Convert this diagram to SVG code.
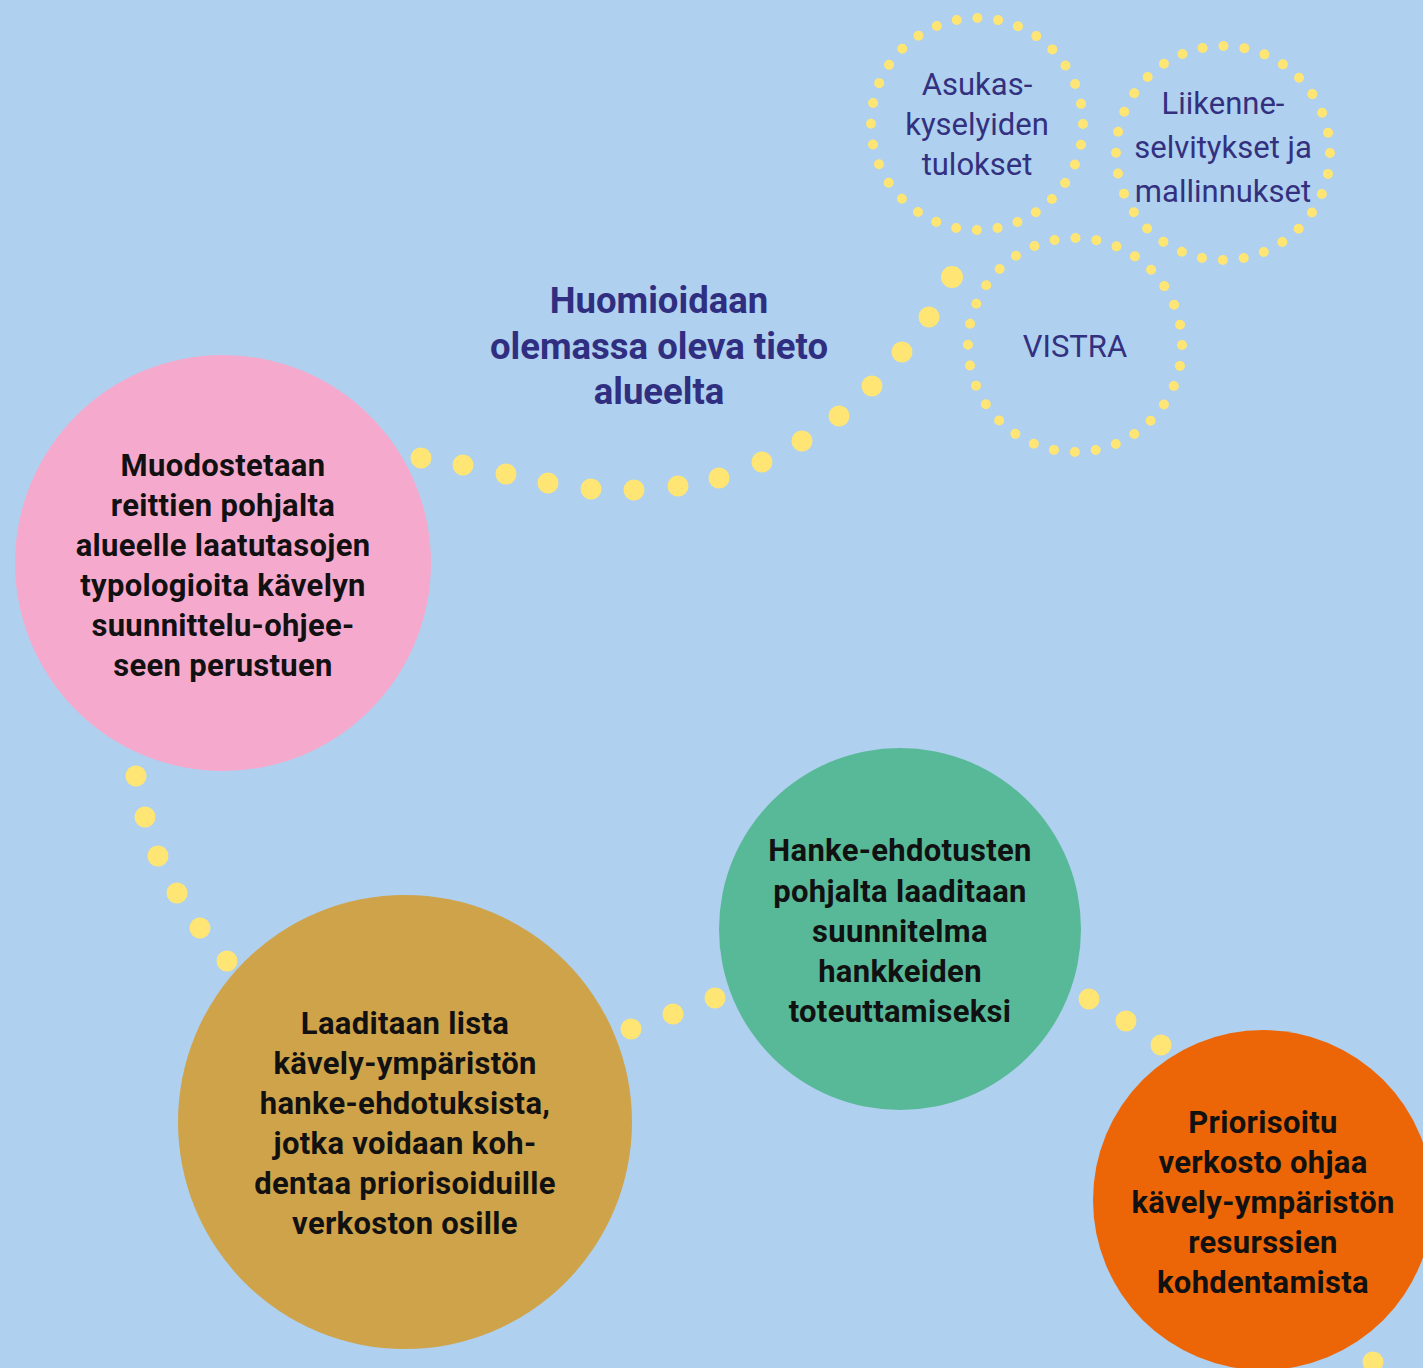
<svg xmlns="http://www.w3.org/2000/svg" width="1423" height="1368" viewBox="0 0 1423 1368">
<style>
.dot{fill:#FFE674}
.ring{fill:none;stroke:#FFE674;stroke-width:10;stroke-linecap:round}
.t{font-family:Roboto,"Liberation Sans",sans-serif;font-weight:700;font-size:31px;letter-spacing:0.3px;fill:#111;text-anchor:middle}
.s{font-family:Roboto,"Liberation Sans",sans-serif;font-size:31px;fill:#33307F;text-anchor:middle}
.h{font-family:Roboto,"Liberation Sans",sans-serif;font-weight:700;font-size:36.5px;fill:#2F2E80;text-anchor:middle}
</style>
<rect width="1423" height="1368" fill="#AFD0EE"/>
<g id="connectors">
<circle class="dot" cx="421" cy="458" r="10.5"/><circle class="dot" cx="463" cy="465" r="10.5"/><circle class="dot" cx="506" cy="474" r="10.5"/><circle class="dot" cx="548" cy="483" r="10.5"/><circle class="dot" cx="591" cy="489" r="10.5"/><circle class="dot" cx="634" cy="490" r="10.5"/><circle class="dot" cx="678" cy="486" r="10.5"/><circle class="dot" cx="719" cy="478" r="10.5"/><circle class="dot" cx="762" cy="462" r="10.5"/><circle class="dot" cx="802" cy="441" r="10.5"/><circle class="dot" cx="839" cy="416" r="10.5"/><circle class="dot" cx="872" cy="386" r="10.5"/><circle class="dot" cx="902" cy="352" r="10.5"/><circle class="dot" cx="929" cy="317" r="10.5"/><circle class="dot" cx="952" cy="277" r="11"/>
<circle class="dot" cx="136" cy="776" r="10.5"/><circle class="dot" cx="145" cy="817" r="10.5"/><circle class="dot" cx="158" cy="856" r="10.5"/><circle class="dot" cx="177" cy="893" r="10.5"/><circle class="dot" cx="200" cy="928" r="10.5"/><circle class="dot" cx="227" cy="961" r="10.5"/>
<circle class="dot" cx="631" cy="1029" r="10.5"/><circle class="dot" cx="673" cy="1014" r="10.5"/><circle class="dot" cx="715" cy="998" r="10.5"/>
<circle class="dot" cx="1089" cy="999" r="10.5"/><circle class="dot" cx="1126" cy="1021" r="10.5"/><circle class="dot" cx="1161" cy="1045" r="10.5"/>
<circle class="dot" cx="1373" cy="1362" r="10.5"/>
</g>
<g id="asukas">
<circle class="ring" cx="977" cy="124" r="106" stroke-dasharray="0 20.81"/>
<text class="s" x="977" y="95">Asukas-</text>
<text class="s" x="977" y="135">kyselyiden</text>
<text class="s" x="977" y="175">tulokset</text>
</g>
<g id="liikenne">
<circle class="ring" cx="1223" cy="153" r="107" stroke-dasharray="0 21.01"/>
<text class="s" x="1223" y="114">Liikenne-</text>
<text class="s" x="1223" y="158">selvitykset ja</text>
<text class="s" x="1223" y="202">mallinnukset</text>
</g>
<g id="vistra">
<circle class="ring" cx="1075" cy="345" r="107" stroke-dasharray="0 21.01"/>
<text class="s" x="1075" y="357">VISTRA</text>
</g>
<g id="heading">
<text class="h" x="659" y="313">Huomioidaan</text>
<text class="h" x="659" y="359">olemassa oleva tieto</text>
<text class="h" x="659" y="404">alueelta</text>
</g>
<g id="pink">
<circle cx="223" cy="563" r="208" fill="#F5AACD"/>
<text class="t" x="223" y="476">Muodostetaan</text>
<text class="t" x="223" y="516">reittien pohjalta</text>
<text class="t" x="223" y="556">alueelle laatutasojen</text>
<text class="t" x="223" y="596">typologioita kävelyn</text>
<text class="t" x="223" y="636">suunnittelu-ohjee-</text>
<text class="t" x="223" y="676">seen perustuen</text>
</g>
<g id="gold">
<circle cx="405" cy="1122" r="227" fill="#CFA34A"/>
<text class="t" x="405" y="1034">Laaditaan lista</text>
<text class="t" x="405" y="1074">kävely-ympäristön</text>
<text class="t" x="405" y="1114">hanke-ehdotuksista,</text>
<text class="t" x="405" y="1154">jotka voidaan koh-</text>
<text class="t" x="405" y="1194">dentaa priorisoiduille</text>
<text class="t" x="405" y="1234">verkoston osille</text>
</g>
<g id="green">
<circle cx="900" cy="929" r="181" fill="#58B998"/>
<text class="t" x="900" y="861">Hanke-ehdotusten</text>
<text class="t" x="900" y="902">pohjalta laaditaan</text>
<text class="t" x="900" y="942">suunnitelma</text>
<text class="t" x="900" y="982">hankkeiden</text>
<text class="t" x="900" y="1022">toteuttamiseksi</text>
</g>
<g id="orange">
<circle cx="1263" cy="1200" r="170" fill="#EC6608"/>
<text class="t" x="1263" y="1133">Priorisoitu</text>
<text class="t" x="1263" y="1173">verkosto ohjaa</text>
<text class="t" x="1263" y="1213">kävely-ympäristön</text>
<text class="t" x="1263" y="1253">resurssien</text>
<text class="t" x="1263" y="1293">kohdentamista</text>
</g>
</svg>
